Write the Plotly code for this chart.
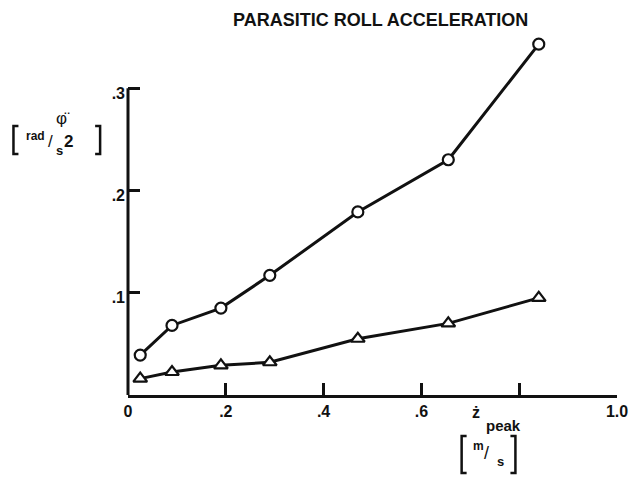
import plotly.graph_objects as go

# Peak heave rate [m/s]
z_peak = [0.025, 0.09, 0.19, 0.29, 0.47, 0.655, 0.84]
# Parasitic roll acceleration [rad/s^2]
roll_acc_circle = [0.039, 0.068, 0.085, 0.117, 0.179, 0.230, 0.343]
roll_acc_triangle = [0.016, 0.0225, 0.029, 0.032, 0.055, 0.070, 0.095]

x_ticks = [0, 0.2, 0.4, 0.6, 0.8, 1.0]
x_tick_text = ["0", ".2", ".4", ".6", "", "1.0"]
y_ticks = [0.1, 0.2, 0.3]
y_tick_text = [".1", ".2", ".3"]
y_axis_top = 0.3
y_view_top = 0.35

W, H = 640, 483
ML, MR, MT, MB = 128, 21, 37, 88
PW, PH = W - ML - MR, H - MT - MB

def px(x):
    return (x - ML) / PW

def py(y):
    return (H - MB - y) / PH

FONT = "Liberation Sans"
INK = "#111111"

fig = go.Figure()
fig.add_trace(go.Scatter(
    x=z_peak, y=roll_acc_circle, mode="lines+markers",
    line=dict(color=INK, width=3),
    marker=dict(symbol="circle", size=11, color="white", line=dict(color=INK, width=2.2)),
    cliponaxis=False, showlegend=False))
fig.add_trace(go.Scatter(
    x=z_peak, y=roll_acc_triangle, mode="lines+markers",
    line=dict(color=INK, width=3),
    marker=dict(symbol="triangle-up", size=12, color="white", line=dict(color=INK, width=2.2)),
    cliponaxis=False, showlegend=False))

axis_common = dict(showgrid=False, zeroline=False, linecolor=INK, linewidth=3,
                   ticks="inside", ticklen=12, tickwidth=2.5, tickcolor=INK,
                   tickfont=dict(family=FONT, size=16, color=INK, weight="bold"))
fig.update_xaxes(range=[0, 1.0], tickvals=x_ticks, ticktext=x_tick_text, showline=True,
                 ticklabelstandoff=0, **axis_common)
fig.update_yaxes(range=[0, y_view_top], tickvals=y_ticks, ticktext=y_tick_text, showline=False,
                 ticklabelstandoff=2, ticklabelshift=5, **axis_common)

ann = []
def text(x, y, s, size, weight="bold"):
    ann.append(dict(x=px(x), y=py(y), xref="paper", yref="paper", text=s, showarrow=False,
                    xanchor="center", yanchor="middle",
                    font=dict(family=FONT, size=size, color=INK, weight=weight)))

text(382, 20, "PARASITIC ROLL ACCELERATION", 18)
# y-axis quantity and unit
text(63, 118, "φ̈", 17, "normal")
text(35, 136, "rad", 12)
text(50, 141, "/", 17, "normal")
text(59, 150, "s", 13)
text(68, 141, "2", 17)
# x-axis quantity and unit
text(477, 412, "ż", 16)
text(505, 425, "peak", 15)
text(480, 446, "m", 12)
text(488, 453, "/", 18, "normal")
text(502, 461, "s", 13)

shapes = []
# y-axis line, stopping at the top tick
shapes.append(dict(type="line", xref="paper", yref="paper", x0=0, x1=0,
                   y0=0, y1=y_axis_top / y_view_top, line=dict(color=INK, width=3)))

def bracket(x0, y0, x1, y1, side):
    # side=+1 opens right ([), side=-1 opens left (])
    d = 5 * side
    shapes.append(dict(type="path", xref="paper", yref="paper",
                       path=f"M {px(x0 + d)} {py(y0)} L {px(x0)} {py(y0)} L {px(x0)} {py(y1)} L {px(x0 + d)} {py(y1)}",
                       line=dict(color=INK, width=2.5)))

bracket(13, 126, 13, 154, +1)
bracket(100, 126, 100, 154, -1)
bracket(463, 436, 463, 473, +1)
bracket(517, 436, 517, 473, -1)

fig.update_layout(width=W, height=H, margin=dict(l=ML, r=MR, t=MT, b=MB),
                  paper_bgcolor="white", plot_bgcolor="white",
                  annotations=ann, shapes=shapes)
fig.write_html("out.html")
